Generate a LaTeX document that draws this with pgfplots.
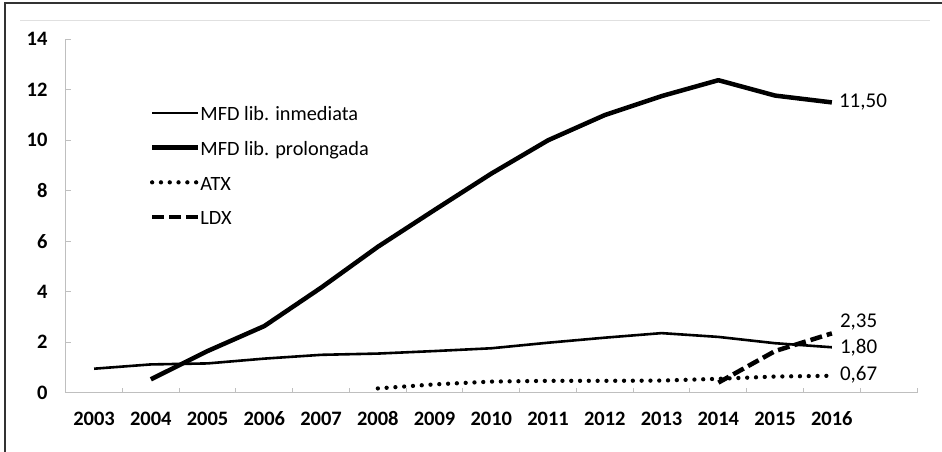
\documentclass[border=0pt]{standalone}
\usepackage{pgfplots}
\pgfplotsset{compat=1.18}
\usepackage{fontspec}
\setmainfont{Carlito}
\definecolor{axgray}{HTML}{BFBFBF}
\begin{document}
\begin{tikzpicture}[x=1pt,y=1pt]
\useasboundingbox (0,0) rectangle (942,452);
\draw[black!80,line width=2.5pt] (5,0) -- (5,449) -- (942,449);
\draw[black!12,line width=0.8pt] (20,431.3) -- (930,431.3);
\begin{axis}[
  at={(65.7pt,59.3pt)}, anchor=south west,
  scale only axis, width=851.3pt, height=353.4pt,
  xmin=2002.5, xmax=2017.5, ymin=0, ymax=14,
  axis x line=bottom, axis y line=left,
  axis line style={draw=axgray, line width=1pt, -},
  xtick={2003,...,2016},
  xticklabels={2003,2004,2005,2006,2007,2008,2009,2010,2011,2012,2013,2014,2015,2016},
  major x tick style={draw=none},
  minor xtick={2002.5,2003.5,...,2017.5},
  minor tick length=5pt,
  minor x tick style={draw=axgray, line width=1pt},
  ytick={0,2,...,14},
  yticklabels={0,2,4,6,8,10,12,14},
  major tick length=5pt,
  major y tick style={draw=axgray, line width=1pt},
  tick align=inside,
  ticklabel style={font=\fontsize{20.5}{25}\selectfont\bfseries},
  xticklabel style={anchor=north, text height=14pt, text depth=0pt, inner sep=0pt, yshift=-18.5pt},
  yticklabel style={anchor=east, inner sep=0pt, xshift=-18pt},
  clip=false,
  legend style={at={(146.7pt-65.7pt,348pt-59.3pt)}, anchor=north west, draw=none, fill=none,
    font=\fontsize{20.3}{24}\selectfont, row sep=16.2pt,
    nodes={inner sep=0pt, text height=14.5pt, text depth=4pt},
    /tikz/every even column/.append style={column sep=7pt}},
  legend cell align=left,
  legend image code/.code={\draw[#1] (0pt,2.5pt) -- (46pt,2.5pt);},
]
\addplot[black, line width=2.6pt, line join=round] coordinates {
(2003,0.95) (2004,1.12) (2005,1.16) (2006,1.35) (2007,1.50) (2008,1.55) (2009,1.65)
(2010,1.76) (2011,1.98) (2012,2.18) (2013,2.36) (2014,2.21) (2015,1.96) (2016,1.80)};
\addlegendentry{MFD lib. inmediata}
\addplot[black, line width=4.5pt, line join=round] coordinates {
(2004,0.53) (2005,1.65) (2006,2.64) (2007,4.16) (2008,5.78) (2009,7.24) (2010,8.68)
(2011,10.0) (2012,11.0) (2013,11.75) (2014,12.38) (2015,11.77) (2016,11.50)};
\addlegendentry{MFD lib. prolongada}
\addplot[black, line width=4.3pt, line cap=round, dash pattern=on 0pt off 8.8pt] coordinates {
(2008,0.17) (2009,0.33) (2010,0.44) (2011,0.47) (2012,0.47) (2013,0.48) (2014,0.55) (2015,0.64) (2016,0.67)};
\addlegendentry{ATX}
\addplot[black, line width=4.5pt, dash pattern=on 12pt off 5pt] coordinates {
(2014,0.40) (2015,1.65) (2016,2.35)};
\addlegendentry{LDX}
\node[anchor=west, font=\fontsize{21}{25}\selectfont, inner sep=0pt] at (axis cs:2016,11.50) [xshift=7pt] {11,50};
\node[anchor=west, font=\fontsize{21}{25}\selectfont, inner sep=0pt] at (axis cs:2016,2.35) [xshift=8pt, yshift=11pt] {2,35};
\node[anchor=west, font=\fontsize{21}{25}\selectfont, inner sep=0pt] at (axis cs:2016,1.80) [xshift=8pt] {1,80};
\node[anchor=west, font=\fontsize{21}{25}\selectfont, inner sep=0pt] at (axis cs:2016,0.67) [xshift=8pt, yshift=1pt] {0,67};
\end{axis}
\end{tikzpicture}
\end{document}
